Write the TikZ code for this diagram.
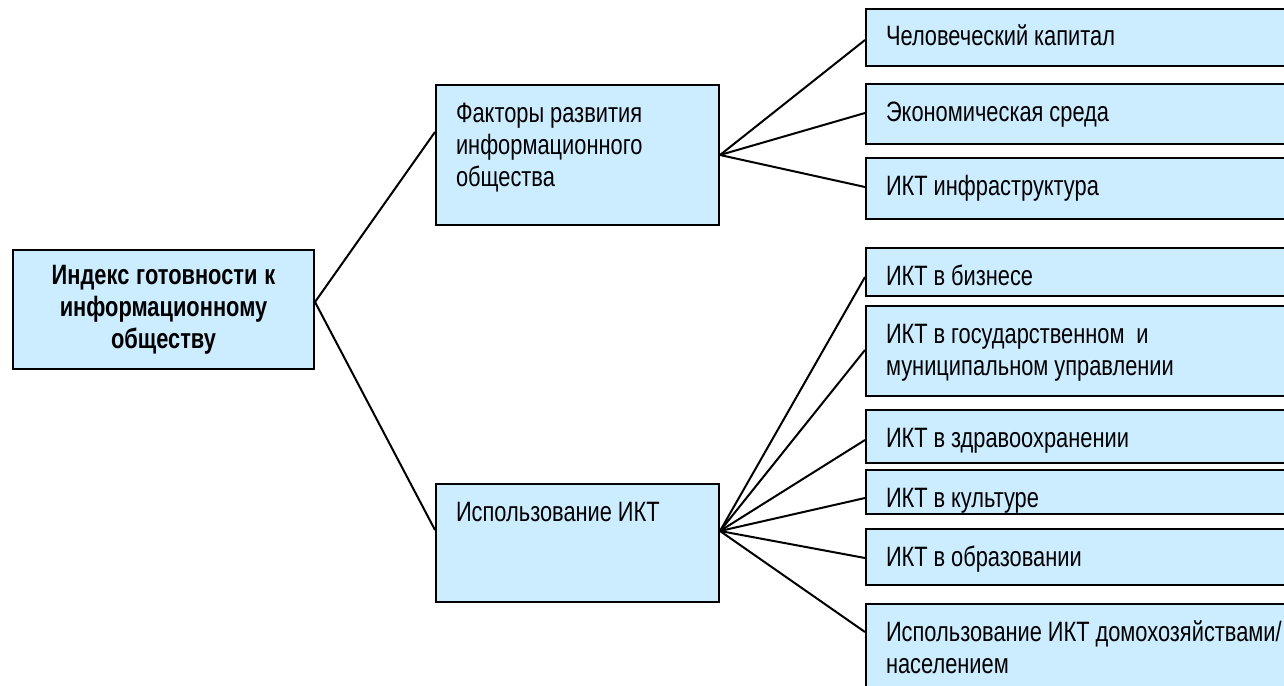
\documentclass[tikz,border=0pt]{standalone}
\usepackage{fontspec}
\setmainfont{Liberation Sans}[FakeStretch=0.78]
\usepackage{tikz}
\usetikzlibrary{positioning}

\definecolor{celeste}{RGB}{204,236,255}
\tikzset{
	raiz/.style={draw, line width=1pt, fill=celeste, anchor=north west, align=center, text width=130.5pt, inner xsep=10pt, minimum height=59.5pt, font=\bfseries\fontsize{14}{16}\selectfont, execute at begin node={\spaceskip=0.21em plus 0.1em\relax}},
	caja/.style={draw, line width=1pt, fill=celeste, anchor=north west, align=left, inner xsep=10pt, inner ysep=0pt, text height=18.5pt, text depth={#1*0.5pt-18.5pt}, font=\fontsize{14}{16}\selectfont, execute at begin node={\spaceskip=0.21em plus 0.1em\relax}},
	media/.style={caja=#1, text width=121.5pt},
	hoja/.style={caja=#1, text width=210pt},
	enlace/.style={line width=1pt}
}

\begin{document}
\begin{tikzpicture}[x=0.5pt, y=-0.5pt]
				\clip (0,0) rectangle (1284,685);
				% Узлы
				\node[raiz] (indeks) at (12,249) {Индекс готовности к \\ информационному \\ обществу};
				\node[media=140] (faktory) at (435,84) {Факторы развития \\ информационного \\ общества};
				\node[media=118] (ikt) at (435,483) {Использование ИКТ};
				\node[hoja=57] (kapital) at (865,8) {Человеческий капитал};
				\node[hoja=60] (sreda) at (865,83) {Экономическая среда};
				\node[hoja=61] (infra) at (865,157) {ИКТ инфраструктура};
				\node[hoja=48] (biznes) at (865,247) {ИКТ в бизнесе};
				\node[hoja=90] (gos) at (865,305) {ИКТ в государственном~ и \\ муниципальном управлении};
				\node[hoja=53] (zdrav) at (865,409) {ИКТ в здравоохранении};
				\node[hoja=44] (kult) at (865,469) {ИКТ в культуре};
				\node[hoja=56] (obraz) at (865,528) {ИКТ в образовании};
				\node[hoja=130] (dom) at (865,603) {Использование ИКТ домохозяйствами/ \\ населением};
				% Линии
				\draw[enlace] ([yshift=-26.5pt]indeks.north east) -- ([yshift=-24pt]faktory.north west);
				\draw[enlace] ([yshift=-26.5pt]indeks.north east) -- ([yshift=-23.5pt]ikt.north west);
				\draw[enlace] (faktory.east) -- ([yshift=-16pt]kapital.north west);
				\draw[enlace] (faktory.east) -- ([yshift=-15pt]sreda.north west);
				\draw[enlace] (faktory.east) -- ([yshift=-15pt]infra.north west);
				\draw[enlace] ([yshift=-24pt]ikt.north east) -- ([yshift=-15pt]biznes.north west);
				\draw[enlace] ([yshift=-24pt]ikt.north east) -- ([yshift=-22.5pt]gos.north west);
				\draw[enlace] ([yshift=-24pt]ikt.north east) -- ([yshift=-15.5pt]zdrav.north west);
				\draw[enlace] ([yshift=-24pt]ikt.north east) -- ([yshift=-14.5pt]kult.north west);
				\draw[enlace] ([yshift=-24pt]ikt.north east) -- ([yshift=-15pt]obraz.north west);
				\draw[enlace] ([yshift=-24pt]ikt.north east) -- ([yshift=-14.5pt]dom.north west);
			\end{tikzpicture}
\end{document}
